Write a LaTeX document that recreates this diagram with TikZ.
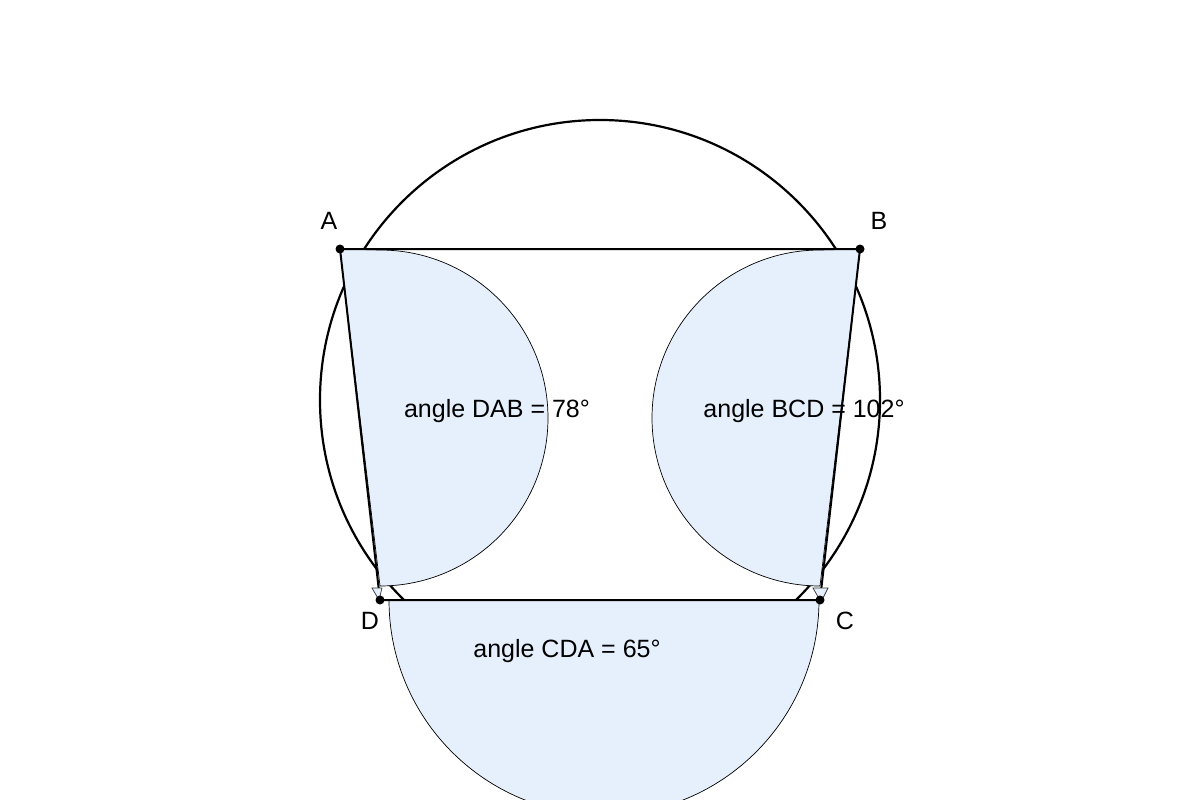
\documentclass[tikz,border=0pt]{standalone}
\usepackage{fontspec}
\setmainfont{Liberation Sans}
\definecolor{lb}{RGB}{230,240,253}
\begin{document}
\begin{tikzpicture}[x=1pt,y=-1pt,
  sector/.style={fill=lb,draw=black,line width=0.7pt},
  edge/.style={line width=2pt},
  dot/.style={circle,fill=black,inner sep=0pt,minimum size=9pt},
  lbl/.style={font=\fontsize{25}{28}\selectfont},
  tip/.style={draw=black!80,fill=lb,line width=0.7pt}]
\useasboundingbox (0,0) rectangle (1200,800);
\draw[line width=2.2pt] (600,400) circle (280);
\coordinate (A) at (340,249);
\coordinate (B) at (860,249);
\coordinate (C) at (820,600);
\coordinate (D) at (380,600);
% sectors
\draw[sector] (A) -- (380,250) arc[start angle=-90,end angle=90,radius=168] -- (380,586) -- cycle;
\draw[sector] (B) -- (820,250) arc[start angle=-90,end angle=-270,radius=168] -- (820,586) -- cycle;
\draw[sector] (389,600) arc[start angle=180,end angle=0,radius=215] -- cycle;
% quadrilateral
\draw[edge] (A) -- (B) -- (C) -- (D) -- cycle;
% small tips
\draw[tip] (372,588) -- (382,588) -- (379,600) -- cycle;
\draw[tip] (813,588) -- (828,588) -- (821,602) -- cycle;
\node[dot] (dA) at (A) {};
\node[dot] (dB) at (B) {};
\node[dot] (dC) at (C) {};
\node[dot] (dD) at (D) {};
\node[lbl] (lA) at (329,221) {A};
\node[lbl] (lB) at (879,221) {B};
\node[lbl] (lC) at (845,621) {C};
\node[lbl] (lD) at (370,621) {D};
\node[lbl] (t1) at (497,411) {angle DAB = 78°};
\node[lbl] (t2) at (804,411) {angle BCD = 102°};
\node[lbl] (t3) at (567,651) {angle CDA = 65°};
\end{tikzpicture}
\end{document}
